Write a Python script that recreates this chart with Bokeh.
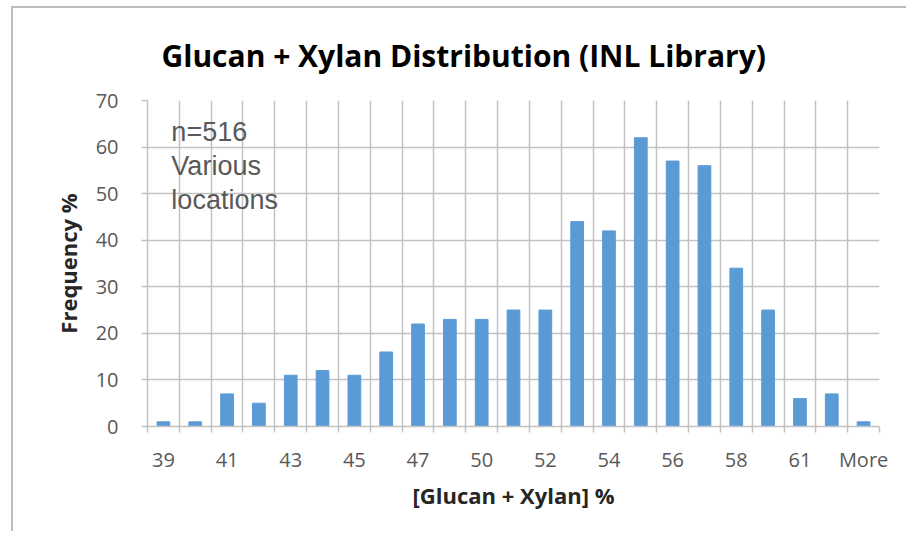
from bokeh.plotting import figure
from bokeh.layouts import column, row
from bokeh.models import FixedTicker, Grid, Label, LinearAxis, Spacer
from bokeh.embed import file_html
from bokeh.resources import INLINE

# ---- data ----
categories = ["39", "40", "41", "42", "43", "44", "45", "46", "47", "48", "50", "51",
              "52", "53", "54", "55", "56", "57", "58", "60", "61", "62", "More"]
frequency = [1, 1, 7, 5, 11, 12, 11, 16, 22, 23, 23, 25,
             25, 44, 42, 62, 57, 56, 34, 25, 6, 7, 1]
y_ticks = [0, 10, 20, 30, 40, 50, 60, 70]
title_text = "Glucan + Xylan Distribution (INL Library)"
x_label = "[Glucan + Xylan] %"
y_label = "Frequency %"
note_lines = ["n=516", "Various", "locations"]

GRID = "#c2c2c2"
TXT = "#595959"
BAR = "#5b9bd5"
FONT = "Open Sans"

n = len(categories)
xs = list(range(n))
bounds = [i - 0.5 for i in range(n + 1)]
labelled = xs[::2]

p = figure(width=895, height=525, x_range=(-0.5, n - 0.5), y_range=(0, 70),
           x_axis_type=None, output_backend="svg", toolbar_location=None,
           min_border_left=134, min_border_right=29, min_border_top=92,
           min_border_bottom=107)
p.styles = {"border-left": "2px solid #bdbdbd", "border-top": "2px solid #bdbdbd"}
p.outline_line_color = None
p.background_fill_color = "white"
p.border_fill_color = "white"

p.title.text = title_text
p.title.align = "left"
p.title.vertical_align = "top"
p.title.offset = 14
p.title.standoff = 45
p.title.text_font = FONT
p.title.text_font_size = "30px"
p.title.text_font_style = "bold"
p.title.text_color = "#000000"

p.vbar(x=xs, top=frequency, width=0.4, color=BAR)

# y axis
p.yaxis.ticker = FixedTicker(ticks=y_ticks)
p.yaxis.axis_line_color = GRID
p.yaxis.axis_line_width = 1.5
p.yaxis.major_tick_line_color = GRID
p.yaxis.major_tick_line_width = 1.5
p.yaxis.major_tick_out = 6
p.yaxis.major_tick_in = 0
p.yaxis.minor_tick_line_color = None
p.yaxis.major_label_standoff = 23
p.yaxis.major_label_text_font = FONT
p.yaxis.major_label_text_font_size = "20px"
p.yaxis.major_label_text_color = TXT
p.yaxis.axis_label = y_label
p.yaxis.axis_label_text_font = FONT
p.yaxis.axis_label_text_font_size = "22px"
p.yaxis.axis_label_text_font_style = "bold"
p.yaxis.axis_label_text_color = "#262626"
p.yaxis.axis_label_standoff = 10
p.ygrid.ticker = FixedTicker(ticks=y_ticks)
p.ygrid.grid_line_color = GRID
p.ygrid.grid_line_width = 1.5

# x grid at category boundaries
p.add_layout(Grid(dimension=0, ticker=FixedTicker(ticks=bounds),
                  grid_line_color=GRID, grid_line_width=1.5))

# x axis: labels at every other category, tick marks at category boundaries
x_axis = LinearAxis(ticker=FixedTicker(ticks=labelled, minor_ticks=bounds),
                    major_label_overrides={i: categories[i] for i in labelled},
                    major_tick_out=0, major_tick_in=0, major_tick_line_color=None,
                    minor_tick_out=6, minor_tick_in=0, minor_tick_line_color=GRID,
                    minor_tick_line_width=1.5,
                    axis_line_color=GRID, axis_line_width=1.5,
                    major_label_standoff=13, major_label_text_font=FONT,
                    major_label_text_font_size="20px", major_label_text_color=TXT,
                    axis_label=x_label, axis_label_text_font=FONT,
                    axis_label_text_font_size="22px", axis_label_text_font_style="bold",
                    axis_label_text_color="#262626", axis_label_standoff=4)
p.add_layout(x_axis, "below")

# note text
for i, line in enumerate(note_lines):
    p.add_layout(Label(x=0.25, y=63.2 - 7.25 * i, text=line, text_font="Liberation Sans",
                       text_font_size="27px", text_color=TXT, text_baseline="middle"))

layout = column(Spacer(height=6), row(Spacer(width=11), p))
open("out.html", "w").write(file_html(layout, INLINE))
